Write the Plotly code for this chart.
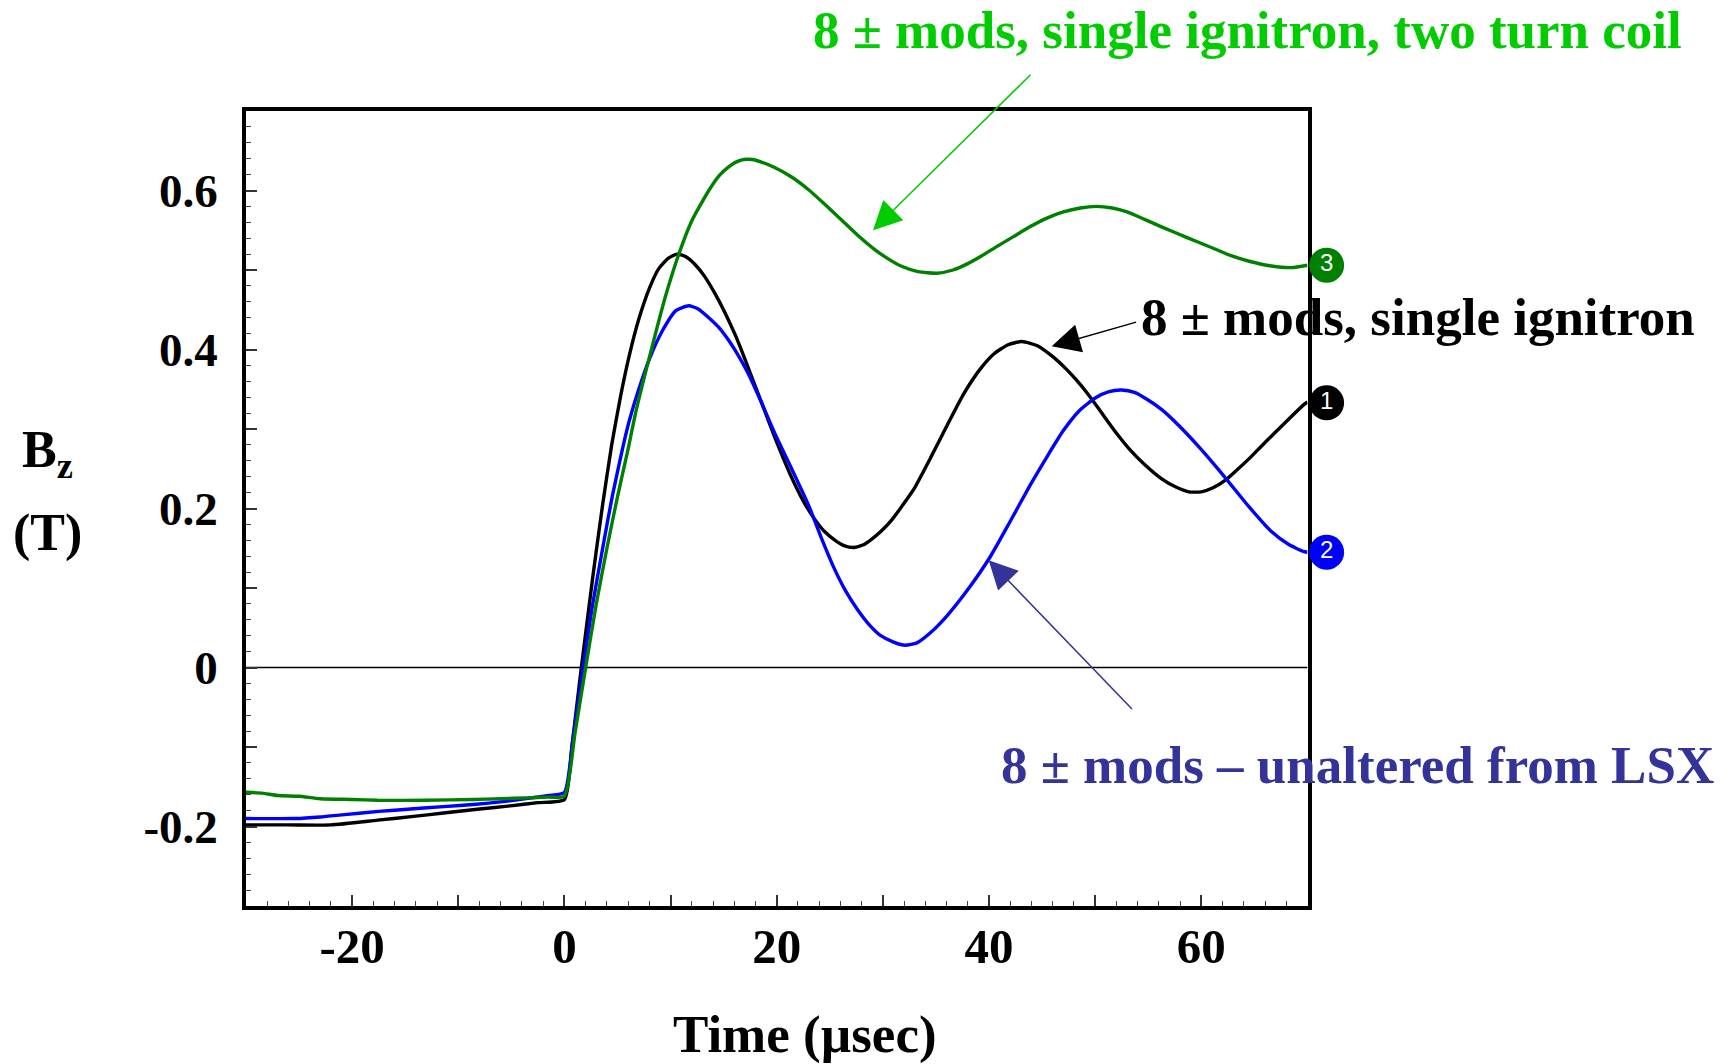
import plotly.graph_objects as go

# ---------------- data ----------------
t_black = [-30, -26, -22, -17.6, -14, -11.4, -8, -5.1, -2.5, 0, 0.7, 1.5, 2.7, 3.6, 4.45, 5.3, 6.1, 7.0,
           8.0, 8.9, 9.8, 10.6, 11.4, 12.3, 13.2, 14.2, 15.1, 16.1, 17.0, 18.0, 19.0, 19.8, 21.2, 22.6,
           23.6, 24.5, 25.5, 26.4, 27.3, 28.1, 28.9, 29.8, 30.8, 31.8, 32.9, 34.5, 36.1, 37.6, 39.2,
           40.5, 41.8, 43.1, 44.5, 46.0, 47.3, 48.2, 49.2, 50.2, 51.0, 52.1, 53.2, 54.6, 56.3, 57.6,
           58.8, 60.0, 61.1, 62.3, 63.4, 64.6, 65.7, 66.9, 68.2, 69.6, 70.0]
bz_black = [-0.198, -0.198, -0.198, -0.192, -0.187, -0.183, -0.178, -0.174, -0.170, -0.166, -0.100,
            -0.010, 0.117, 0.205, 0.280, 0.342, 0.392, 0.438, 0.477, 0.502, 0.515, 0.520, 0.517, 0.507,
            0.492, 0.470, 0.447, 0.418, 0.388, 0.353, 0.318, 0.290, 0.245, 0.207, 0.186, 0.171, 0.160,
            0.153, 0.151, 0.154, 0.161, 0.171, 0.185, 0.203, 0.224, 0.264, 0.306, 0.344, 0.376, 0.395,
            0.406, 0.410, 0.405, 0.391, 0.375, 0.362, 0.346, 0.328, 0.313, 0.293, 0.275, 0.256, 0.237,
            0.227, 0.221, 0.221, 0.226, 0.236, 0.249, 0.264, 0.279, 0.295, 0.312, 0.330, 0.334]

t_blue = [-30, -25.4, -23, -20.7, -17.5, -14.5, -11.4, -8.3, -6, -3.6, -1.5, 0, 0.8, 1.7, 2.6, 3.6, 4.5,
          5.5, 6.1, 7.0, 8.0, 9.2, 10.5, 11.7, 12.6, 13.6, 14.6, 15.5, 16.4, 17.3, 18.5, 19.8, 21.4,
          23.0, 24.2, 25.4, 26.5, 27.6, 28.7, 29.8, 31.0, 32.1, 33.2, 34.5, 36.1, 38.0, 40.1, 42.0,
          43.9, 45.5, 47.0, 48.5, 50.0, 51.3, 52.5, 53.7, 54.8, 56.3, 57.9, 60.0, 62.3, 64.5, 66.6,
          68.2, 69.6, 70.0]
bz_blue = [-0.190, -0.190, -0.188, -0.185, -0.181, -0.178, -0.175, -0.172, -0.169, -0.165, -0.161,
           -0.157, -0.090, -0.005, 0.075, 0.150, 0.215, 0.277, 0.310, 0.350, 0.388, 0.423, 0.449,
           0.455, 0.451, 0.440, 0.427, 0.411, 0.392, 0.370, 0.335, 0.295, 0.250, 0.204, 0.163, 0.125,
           0.096, 0.073, 0.054, 0.040, 0.032, 0.028, 0.031, 0.044, 0.066, 0.098, 0.139, 0.184, 0.230,
           0.266, 0.298, 0.323, 0.339, 0.347, 0.349, 0.346, 0.338, 0.324, 0.304, 0.274, 0.238, 0.202,
           0.171, 0.155, 0.146, 0.145]

t_green = [-30, -28.5, -27, -25, -23, -20, -17.6, -13, -8.6, -6, -3.6, -1.5, 0, 1, 2, 3, 4, 5, 6, 6.7,
           8.0, 9.5, 10.8, 12.0, 13.6, 14.6, 15.5, 16.2, 16.9, 17.7, 18.5, 19.8, 21.4, 23.0, 24.5,
           26.1, 27.6, 29.2, 30.5, 31.7, 33.3, 35.1, 36.6, 38.0, 39.2, 40.8, 42.3, 43.8, 45.4, 47.0,
           48.6, 50.1, 51.6, 53.0, 54.6, 56.3, 58.6, 61.0, 62.8, 64.5, 66.6, 68.5, 70.0]
bz_green = [-0.157, -0.158, -0.161, -0.162, -0.165, -0.166, -0.167, -0.167, -0.166, -0.165, -0.164,
            -0.163, -0.162, -0.082, 0.000, 0.080, 0.150, 0.215, 0.275, 0.320, 0.390, 0.466, 0.521,
            0.562, 0.600, 0.619, 0.630, 0.636, 0.639, 0.639, 0.636, 0.629, 0.617, 0.601, 0.583, 0.563,
            0.544, 0.526, 0.514, 0.505, 0.498, 0.496, 0.500, 0.508, 0.517, 0.530, 0.542, 0.554, 0.565,
            0.573, 0.578, 0.580, 0.578, 0.573, 0.564, 0.554, 0.541, 0.528, 0.518, 0.511, 0.505, 0.503,
            0.506]

end_labels = ["1", "2", "3"]
end_values = [0.333, 0.145, 0.506]
end_colors = ["#000000", "#0000ff", "#008000"]

x_tickvals = [-30, -20, -10, 0, 10, 20, 30, 40, 50, 60, 70]
x_ticktext = ["", "-20", "", "0", "", "20", "", "40", "", "60", ""]
y_tickvals = [-0.3, -0.2, -0.1, 0, 0.1, 0.2, 0.3, 0.4, 0.5, 0.6, 0.7]
y_ticktext = ["", "-0.2", "", "0", "", "0.2", "", "0.4", "", "0.6", ""]

label_green = "8 ± mods, single ignitron, two turn coil"
label_black = "8 ± mods, single ignitron"
label_blue = "8 ± mods – unaltered from LSX"
x_title = "Time (µsec)"

# ---------------- geometry ----------------
W, H = 1734, 1064
ML, MT, MB = 246, 111, 158
MAIN_RIGHT = 1307.5          # right edge of the framed plot
EXTRA_RIGHT = 1345           # plotting area extended for the end markers
MR = W - EXTRA_RIGHT
PW = EXTRA_RIGHT - ML
PH = H - MT - MB
XMIN, XMAX = -30, 70
main_frac = (MAIN_RIGHT - ML) / PW
x2_max = XMIN + (XMAX - XMIN) / main_frac


def px(xp):
    return (xp - ML) / PW


def py(yp):
    return (H - MB - yp) / PH


SERIF = "Liberation Serif"
fig = go.Figure()

# zero line inside the frame only
fig.add_shape(type="line", xref="x", yref="y", x0=XMIN, x1=XMAX, y0=0, y1=0,
              line=dict(color="black", width=1.6), layer="below")

for t, v, c in [(t_black, bz_black, "#000000"), (t_blue, bz_blue, "#0000ff"), (t_green, bz_green, "#008000")]:
    fig.add_trace(go.Scatter(x=t, y=v, mode="lines", line=dict(color=c, width=3.4, shape="spline",
                                                               smoothing=0.55),
                             showlegend=False, hoverinfo="skip"))

fig.add_trace(go.Scatter(
    x=[71.8] * 3, y=end_values, xaxis="x2", yaxis="y", mode="markers+text", text=end_labels,
    textposition="middle center", textfont=dict(family="Liberation Sans", size=24, color="white"),
    marker=dict(size=35, color=end_colors, line=dict(width=0)), cliponaxis=False, showlegend=False,
    hoverinfo="skip"))

axis_common = dict(showline=True, mirror=True, linewidth=3.5, linecolor="black", showgrid=False,
                   ticks="inside", ticklen=11, tickwidth=1.5, tickcolor="#333333",
                   tickmode="array")

fig.update_layout(
    xaxis=dict(range=[XMIN, XMAX], domain=[0, main_frac], anchor="y", tickvals=x_tickvals,
               ticktext=x_ticktext, zeroline=False,
               tickfont=dict(family=SERIF, size=49, color="black", weight="bold"),
               ticklabelstandoff=-6,
               minor=dict(ticks="inside", ticklen=5, tickwidth=1.2, tickcolor="#444444",
                          tickmode="linear", tick0=-30, dtick=2),
               **axis_common),
    xaxis2=dict(range=[XMIN, x2_max], domain=[0, 1], anchor="y", visible=False, showgrid=False,
                zeroline=False),
    yaxis=dict(range=[-0.3, 0.7], domain=[0, 1], anchor="x", tickvals=y_tickvals, ticktext=y_ticktext,
               zeroline=False,
               tickfont=dict(family=SERIF, size=47, color="black", weight="bold"),
               ticklabelstandoff=15,
               minor=dict(ticks="inside", ticklen=5, tickwidth=1.2, tickcolor="#444444",
                          tickmode="linear", tick0=-0.3, dtick=0.02),
               **axis_common),
)

ann = []
# arrows
ann.append(dict(x=29.07, y=0.55, ax=44.05, ay=0.7475, xref="x", yref="y", axref="x", ayref="y",
                text="", showarrow=True, arrowhead=2, arrowsize=3.8, arrowwidth=1.5,
                arrowcolor="#00cc00", standoff=0))
ann.append(dict(x=45.9, y=0.404, ax=54.0, ay=0.435, xref="x", yref="y", axref="x", ayref="y",
                text="", showarrow=True, arrowhead=2, arrowsize=3.8, arrowwidth=1.5,
                arrowcolor="#000000", standoff=0))
ann.append(dict(x=39.96, y=0.135, ax=53.6, ay=-0.054, xref="x", yref="y", axref="x", ayref="y",
                text="", showarrow=True, arrowhead=2, arrowsize=3.8, arrowwidth=1.5,
                arrowcolor="#333399", standoff=0))
# texts
ann.append(dict(x=px(1247), y=py(30), xref="paper", yref="paper", text="<b>%s</b>" % label_green,
                showarrow=False, xanchor="center", yanchor="middle",
                font=dict(family=SERIF, size=53, color="#00cc00")))
ann.append(dict(x=px(1418), y=py(317), xref="paper", yref="paper", text="<b>%s</b>" % label_black,
                showarrow=False, xanchor="center", yanchor="middle",
                font=dict(family=SERIF, size=53, color="#000000")))
ann.append(dict(x=px(1357), y=py(765), xref="paper", yref="paper", text="<b>%s</b>" % label_blue,
                showarrow=False, xanchor="center", yanchor="middle",
                font=dict(family=SERIF, size=53, color="#333399")))
# axis titles
ann.append(dict(x=px(805), y=py(1034), xref="paper", yref="paper", text="<b>%s</b>" % x_title,
                showarrow=False, xanchor="center", yanchor="middle",
                font=dict(family=SERIF, size=53, color="black")))
ann.append(dict(x=px(47), y=py(453), xref="paper", yref="paper", text="<b>B<sub>z</sub></b>",
                showarrow=False, xanchor="center", yanchor="middle",
                font=dict(family=SERIF, size=52, color="black")))
ann.append(dict(x=px(47), y=py(533), xref="paper", yref="paper", text="<b>(T)</b>",
                showarrow=False, xanchor="center", yanchor="middle",
                font=dict(family=SERIF, size=52, color="black")))

fig.update_layout(width=W, height=H, autosize=False,
                  margin=dict(l=ML, r=MR, t=MT, b=MB),
                  paper_bgcolor="white", plot_bgcolor="rgba(0,0,0,0)", annotations=ann)

fig.write_html("out.html")
